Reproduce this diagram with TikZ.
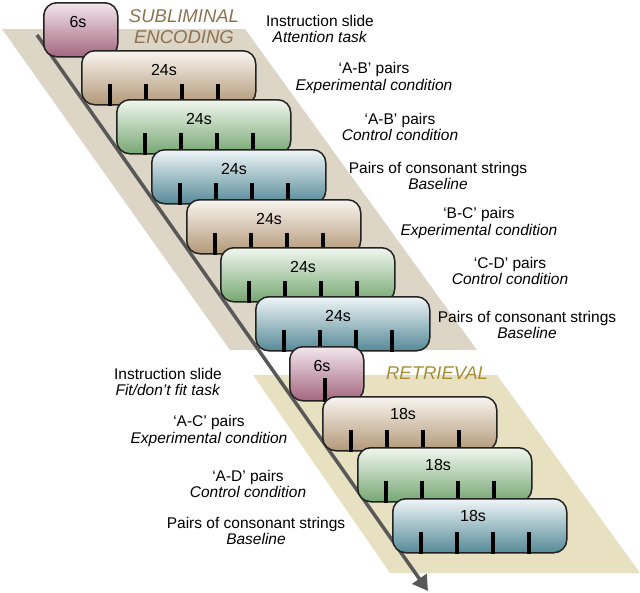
\documentclass[tikz,border=0pt]{standalone}
\usepackage{fontspec}
\setmainfont{Liberation Sans}
\usepackage{tikz}
\usetikzlibrary{calc,arrows.meta}

\definecolor{encbg}{RGB}{221,213,198}
\definecolor{retbg}{RGB}{231,225,193}
\definecolor{enctext}{RGB}{140,114,80}
\definecolor{rettext}{RGB}{166,142,48}
\definecolor{edge}{RGB}{34,34,34}
\definecolor{linegray}{RGB}{88,88,88}
\definecolor{pinklight}{RGB}{242,230,236}
\definecolor{pinkdark}{RGB}{164,102,126}
\definecolor{tanlight}{RGB}{249,245,239}
\definecolor{tandark}{RGB}{178,152,120}
\definecolor{greenlight}{RGB}{241,247,239}
\definecolor{greendark}{RGB}{118,167,114}
\definecolor{bluelight}{RGB}{239,245,247}
\definecolor{bluedark}{RGB}{86,138,151}

\tikzset{
  slide/.style={draw=edge, line width=1.5pt, rounded corners=13pt, anchor=north west,
    minimum height=54pt, minimum width=174pt, inner sep=0pt},
  pink slide/.style={slide, top color=pinklight, bottom color=pinkdark, minimum width=74pt},
  tan slide/.style={slide, top color=tanlight, bottom color=tandark},
  green slide/.style={slide, top color=greenlight, bottom color=greendark},
  blue slide/.style={slide, top color=bluelight, bottom color=bluedark},
  slidetime/.style={font=\fontsize{16}{16}\selectfont, inner sep=0pt},
  tick/.style={line width=3.6pt, black},
  cond/.style={align=center, inner sep=0pt, font=\fontsize{15.5}{16.5}\selectfont},
  phase/.style={align=center, inner sep=0pt, font=\fontsize{18.5}{21}\selectfont\itshape},
  timeline/.style={line width=3.5pt, linegray, -{Triangle[width=17pt,length=15pt]}}
}

\begin{document}
\begin{tikzpicture}[x=1pt, y=-1pt]
    \useasboundingbox (0,0) rectangle (640,592);

    % Backgrounds of the two phases
    \fill[encbg] (2,29) -- (245,29) -- (477,350) -- (230,350) -- cycle; % encoding
    \fill[retbg] (253,375) -- (497,375) -- (640,573) -- (390,573) -- cycle; % retrieval
    \node[phase, enctext] (enc) at (184,27) {SUBLIMINAL\\ENCODING};
    \node[phase, rettext] (ret) at (437,373) {RETRIEVAL};

    % Time axis
    \coordinate (tstart) at (37,35);
    \coordinate (tend) at (428,591);
    \draw[timeline] (tstart) -- (tend);

    % Encoding slides
    \node[pink slide] (b1) at (43,2) {};
    \node[slidetime] (t1) at ($(b1.north west)+(35,20)$) {6s};
    \foreach \n/\x/\y/\kind/\lbl in {2/81/50/tan/24s, 3/116/99/green/24s, 4/151/149/blue/24s,
                                    5/186/199/tan/24s, 6/220/247/green/24s, 7/255/296/blue/24s} {
      \node[\kind\space slide] (b\n) at (\x,\y) {};
      \node[slidetime] (t\n) at ($(b\n.north west)+(83,20)$) {\lbl};
      \foreach \d in {29,65,101,137}
        \draw[tick] ($(b\n.south west)+(\d,0)$) -- ++(0,-22);
    }

    % Retrieval slides
    \node[pink slide] (b8) at (289,346) {};
    \node[slidetime] (t8) at ($(b8.north west)+(33,20)$) {6s};
    \draw[tick] ($(b8.south west)+(36,0)$) -- ++(0,-24);
    \foreach \n/\x/\y/\kind/\lbl in {9/322/396/tan/18s, 10/357/447/green/18s, 11/392/498/blue/18s} {
      \node[\kind\space slide] (b\n) at (\x,\y) {};
      \node[slidetime] (t\n) at ($(b\n.north west)+(81,18)$) {\lbl};
      \foreach \d in {29,65,101,137}
        \draw[tick] ($(b\n.south west)+(\d,0)$) -- ++(0,-22);
    }

    % Conditions
    \node[cond] (c1) at (320,29) {Instruction slide\\\textit{Attention task}};
    \node[cond] (c2) at (374,78) {‘A-B’ pairs\\\textit{Experimental condition}};
    \node[cond] (c3) at (400,127) {‘A-B’ pairs\\\textit{Control condition}};
    \node[cond] (c4) at (438,176) {Pairs of consonant strings\\\textit{Baseline}};
    \node[cond] (c5) at (479,223) {‘B-C’ pairs\\\textit{Experimental condition}};
    \node[cond] (c6) at (510,271) {‘C-D’ pairs\\\textit{Control condition}};
    \node[cond] (c7) at (527,325) {Pairs of consonant strings\\\textit{Baseline}};
    \node[cond] (c8) at (168,382) {Instruction slide\\\textit{Fit/don’t fit task}};
    \node[cond] (c9) at (209,431) {‘A-C’ pairs\\\textit{Experimental condition}};
    \node[cond] (c10) at (248,484) {‘A-D’ pairs\\\textit{Control condition}};
    \node[cond] (c11) at (256,531) {Pairs of consonant strings\\\textit{Baseline}};
\end{tikzpicture}
\end{document}
